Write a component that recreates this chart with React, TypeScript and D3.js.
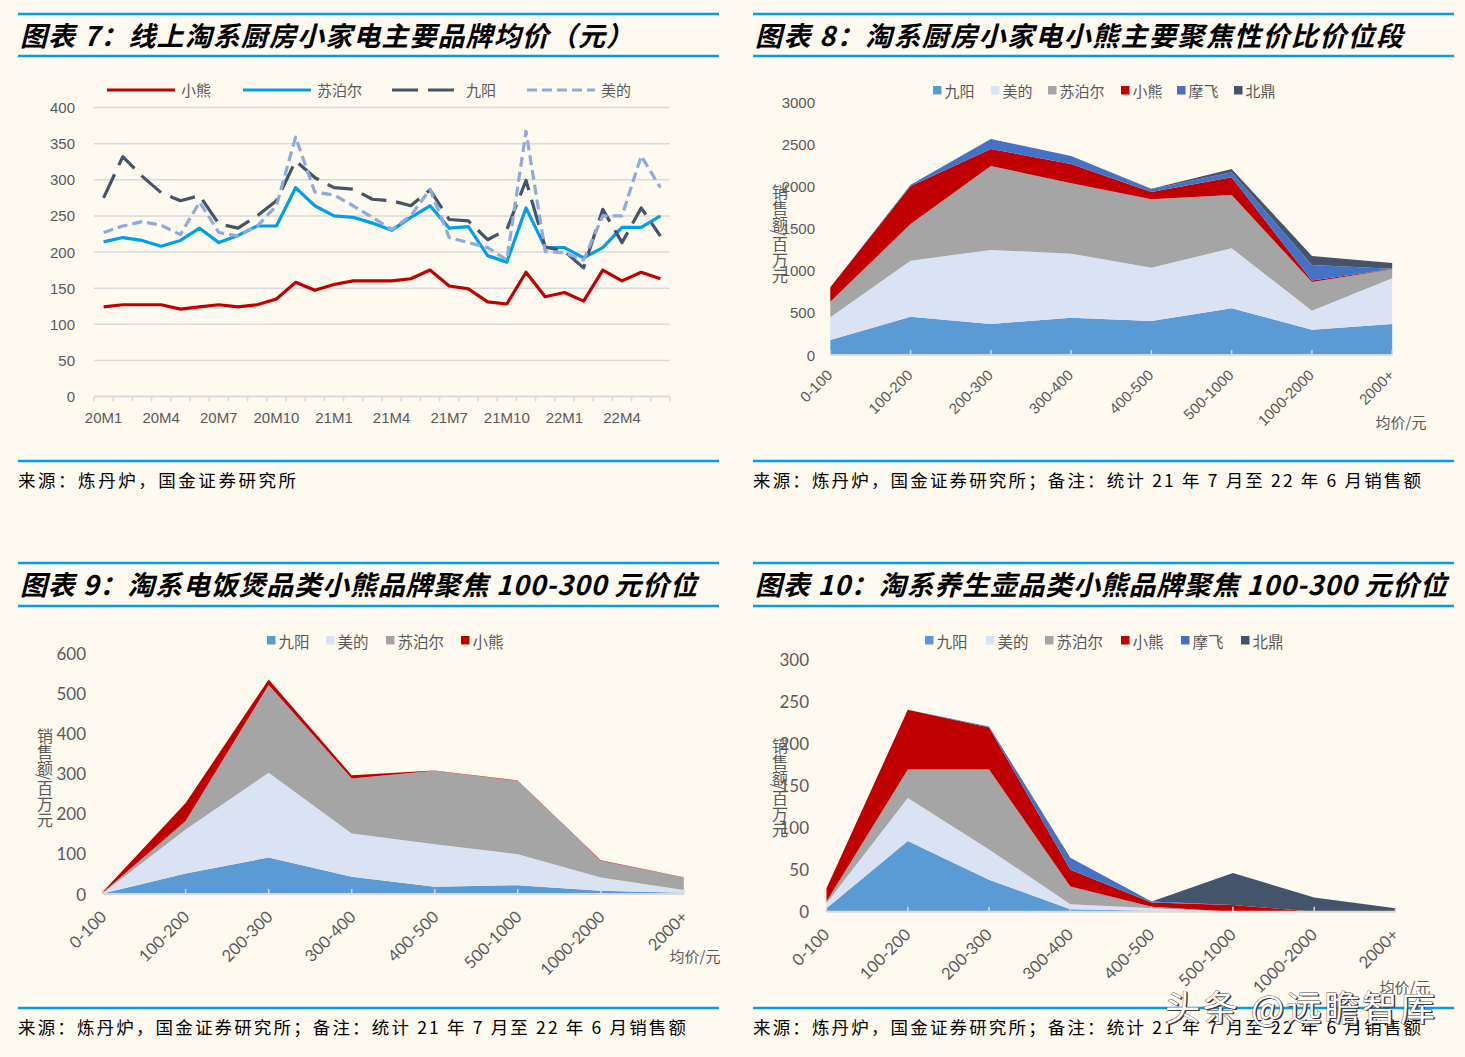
import React from 'react';
import * as d3 from 'd3';

// ---------- DATA ----------
const months = [
  '20M1','20M2','20M3','20M4','20M5','20M6','20M7','20M8','20M9','20M10','20M11','20M12',
  '21M1','21M2','21M3','21M4','21M5','21M6','21M7','21M8','21M9','21M10','21M11','21M12',
  '22M1','22M2','22M3','22M4','22M5','22M6',
];
const xiaoxiongPrice = [124,127,127,127,121,124,127,124,127,135,158,147,155,160,160,160,163,175,153,149,131,128,172,138,144,132,175,160,172,163];
const suporPrice = [214,220,216,208,216,233,213,223,236,236,289,264,250,248,240,230,248,264,233,235,195,186,261,206,206,192,206,234,234,250];
const jiuyangPrice = [275,332,305,282,271,278,239,233,250,271,326,303,289,287,273,271,264,286,245,243,217,231,299,207,201,178,259,213,261,222];
const meidiPrice = [227,236,242,237,224,269,227,222,236,264,359,283,279,264,248,231,250,287,220,213,206,189,367,201,199,189,250,250,333,289];
const priceTicks7 = [0,50,100,150,200,250,300,350,400];
const monthLabelsShown = ['20M1','20M4','20M7','20M10','21M1','21M4','21M7','21M10','22M1','22M4'];

const priceBins = ['0-100','100-200','200-300','300-400','400-500','500-1000','1000-2000','2000+'];
const brands6 = ['九阳','美的','苏泊尔','小熊','摩飞','北鼎'];
const brands4 = ['九阳','美的','苏泊尔','小熊'];

// 图表8: 厨房小家电销售额（百万元）
const kitchenJiuyang = [178,455,368,443,404,554,301,368];
const kitchenMeidi = [269,665,879,760,633,713,225,542];
const kitchenSupor = [186,435,997,835,811,633,341,107];
const kitchenXiaoxiong = [170,452,202,230,87,210,16,4];
const kitchenMofei = [0,15,119,95,32,59,186,4];
const kitchenBeiding = [0,0,0,0,8,40,107,67];
const kitchenTicks = [0,500,1000,1500,2000,2500,3000];

// 图表9: 电饭煲
const riceJiuyang = [1,51,91,43,18,22,8,3];
const riceMeidi = [1,110,211,108,106,77,33,7];
const riceSupor = [1,21,219,137,183,183,42,31];
const riceXiaoxiong = [2,45,14,8,1,1,1,1];
const riceTicks = [0,100,200,300,400,500,600];

// 图表10: 养生壶
const kettleJiuyang = [4,84,38,3,1,0,0,0];
const kettleMeidi = [6,51,36,6,3,0,0,0];
const kettleSupor = [2,34,95,21,2,0,0,0];
const kettleXiaoxiong = [16,71,50,20,5,8,0,0];
const kettleMofei = [0,0,1,14,1,0,0,0];
const kettleBeiding = [0,0,0,0,0,38,17,4];
const kettleTicks = [0,50,100,150,200,250,300];

const brandColors: Record<string, string> = {
  '九阳': '#5B9BD5',
  '美的': '#DAE3F3',
  '苏泊尔': '#A5A5A5',
  '小熊': '#C00000',
  '摩飞': '#4472C4',
  '北鼎': '#44546A',
};

function buildTable(keys: string[], cols: number[][]) {
  return priceBins.map((bin, i) => {
    const row: any = { bin };
    keys.forEach((k, j) => { row[k] = cols[j][i]; });
    return row;
  });
}

const kitchenTable = buildTable(brands6, [kitchenJiuyang, kitchenMeidi, kitchenSupor, kitchenXiaoxiong, kitchenMofei, kitchenBeiding]);
const riceTable = buildTable(brands4, [riceJiuyang, riceMeidi, riceSupor, riceXiaoxiong]);
const kettleTable = buildTable(brands6, [kettleJiuyang, kettleMeidi, kettleSupor, kettleXiaoxiong, kettleMofei, kettleBeiding]);

// ---------- STYLE ----------
const BG = '#FFFAF0';
const RULE = '#00A0E6';
const GREY_TXT = '#595959';
const AXIS = '#D9D9D9';
const SANS = "'Liberation Sans', Arial, 'Noto Sans CJK SC', sans-serif";
const CAL = "Lato, 'Noto Sans CJK SC', sans-serif";
const CJK = "'Noto Sans CJK SC', sans-serif";

function Panel({ x0, x1, yTop, yLine2, yBottom, title, titleX1, source, sourceX1 }: any) {
  return (
    <g>
      <line x1={x0} x2={x1} y1={yTop} y2={yTop} stroke={RULE} strokeWidth={2.5} />
      <line x1={x0} x2={x1} y1={yLine2} y2={yLine2} stroke={RULE} strokeWidth={2.5} />
      <text x={x0 + 2} y={(yTop + yLine2) / 2 - 1} dominantBaseline="central" fontFamily={CJK}
        fontWeight={700} fontStyle="italic" fontSize={27} fill="#000"
        textLength={titleX1 - x0 - 2} lengthAdjust="spacing">{title}</text>
      <line x1={x0} x2={x1} y1={yBottom} y2={yBottom} stroke={RULE} strokeWidth={2.5} />
      <text x={x0} y={yBottom + 18} dominantBaseline="central" fontFamily={CJK}
        fontSize={17.5} fill="#000" textLength={sourceX1 - x0} lengthAdjust="spacing">{source}</text>
    </g>
  );
}

function Chart7() {
  const x = d3.scaleBand<string>().domain(months).range([94, 670]);
  const y = d3.scaleLinear().domain([0, 400]).range([396.5, 107.5]);
  const cx = (m: string) => (x(m) as number) + x.bandwidth() / 2;
  const series = [
    { name: '小熊', values: xiaoxiongPrice, color: '#C00000', dash: undefined as any, lx: 107 },
    { name: '苏泊尔', values: suporPrice, color: '#00A0E9', dash: undefined as any, lx: 243 },
    { name: '九阳', values: jiuyangPrice, color: '#44546A', dash: '26,10', lx: 392 },
    { name: '美的', values: meidiPrice, color: '#8FAADC', dash: '10,5', lx: 527 },
  ];
  const line = d3.line<number>().x((_, i) => cx(months[i])).y(d => y(d));
  return (
    <g>
      {priceTicks7.map(t => (
        <g key={t}>
          <line x1={94} x2={670} y1={y(t)} y2={y(t)} stroke={AXIS} strokeWidth={t === 0 ? 2 : 1.5} />
          <text x={75} y={y(t)} textAnchor="end" dominantBaseline="central" fontFamily={SANS} fontSize={15} fill={GREY_TXT}>{t}</text>
        </g>
      ))}
      {d3.range(months.length + 1).map(i => {
        const xx = 94 + i * x.step();
        return <line key={i} x1={xx} x2={xx} y1={396.5} y2={401.5} stroke={AXIS} strokeWidth={1.5} />;
      })}
      {monthLabelsShown.map(m => (
        <text key={m} x={cx(m)} y={417} textAnchor="middle" dominantBaseline="central" fontFamily={SANS} fontSize={15} fill={GREY_TXT}>{m}</text>
      ))}
      {series.map(s => (
        <path key={s.name} d={line(s.values) as string} fill="none" stroke={s.color} strokeWidth={3.2}
          strokeDasharray={s.dash} strokeLinejoin="round" />
      ))}
      {series.map(s => (
        <g key={'lg' + s.name}>
          <line x1={s.lx} x2={s.lx + 68} y1={90} y2={90} stroke={s.color} strokeWidth={3.2} strokeDasharray={s.dash} />
          <text x={s.lx + 74} y={90} dominantBaseline="central" fontFamily={SANS} fontSize={15} fill={GREY_TXT}>{s.name}</text>
        </g>
      ))}
    </g>
  );
}

function VerticalLabel({ x, y0, size }: any) {
  const chars = ['销', '售', '额', '/', '百', '万', '元'];
  const offs = [0, 16, 32, 42, 52, 68, 84];
  return (
    <g>
      {chars.map((c, i) => (
        c === '/' ? (
          <text key={i} x={0} y={0} transform={`translate(${x},${y0 + offs[i]}) rotate(90)`} textAnchor="middle"
            dominantBaseline="central" fontFamily={CJK} fontSize={size} fill={GREY_TXT}>{c}</text>
        ) : (
          <text key={i} x={x} y={y0 + offs[i]} textAnchor="middle" dominantBaseline="central"
            fontFamily={CJK} fontSize={size} fill={GREY_TXT}>{c}</text>
        )
      ))}
    </g>
  );
}

function StackChart({ keys, table, xRange, yRange, yMax, ticks, tickX, tickFont, tickSize,
  legendY, legendXs, legendSize, ylabX, ylabY, labOff, labFont, labSize, unitX, unitY }: any) {
  const x = d3.scalePoint<string>().domain(priceBins).range(xRange);
  const y = d3.scaleLinear().domain([0, yMax]).range(yRange);
  const stacked = d3.stack<any>().keys(keys)(table);
  const area = d3.area<any>()
    .x(d => x(d.data.bin) as number)
    .y0(d => y(d[0]))
    .y1(d => y(d[1]));
  const base = yRange[0];
  return (
    <g>
      {ticks.map((t: number) => (
        <text key={t} x={tickX} y={y(t)} textAnchor="end" dominantBaseline="central" fontFamily={tickFont}
          fontSize={tickSize} fill={GREY_TXT}>{t}</text>
      ))}
      {stacked.map((s: any) => (
        <path key={s.key} d={area(s) as string} fill={brandColors[s.key]} />
      ))}
      <line x1={xRange[0]} x2={xRange[1]} y1={base} y2={base} stroke={AXIS} strokeWidth={2} />
      {priceBins.map(b => (
        <line key={'t' + b} x1={x(b)} x2={x(b)} y1={base - 5} y2={base} stroke={AXIS} strokeWidth={1.5} />
      ))}
      {priceBins.map(b => (
        <text key={'l' + b} x={0} y={0} transform={`translate(${(x(b) as number) + labOff[0]},${base + labOff[1]}) rotate(-45)`}
          textAnchor="end" fontFamily={labFont} fontSize={labSize} fill={GREY_TXT}>{b}</text>
      ))}
      <text x={unitX} y={unitY} textAnchor="middle" dominantBaseline="central" fontFamily={CJK} fontSize={15} fill={GREY_TXT}>均价/元</text>
      <VerticalLabel x={ylabX} y0={ylabY} size={16} />
      {keys.map((k: string, i: number) => (
        <g key={'lg' + k}>
          <rect x={legendXs[i]} y={legendY - 4.5} width={8.5} height={8.5} fill={brandColors[k]} />
          <text x={legendXs[i] + 11.5} y={legendY} dominantBaseline="central" fontFamily={CJK} fontSize={legendSize} fill={GREY_TXT}>{k}</text>
        </g>
      ))}
    </g>
  );
}

export default function App() {
  const srcLong = '来源：炼丹炉，国金证券研究所；备注：统计 21 年 7 月至 22 年 6 月销售额';
  return (
    <svg width={1465} height={1057} style={{ position: 'absolute', left: 0, top: 0, display: 'block' }}>
      <rect x={0} y={0} width={1465} height={1057} fill={BG} />
      <Panel x0={18} x1={719} yTop={14} yLine2={56} yBottom={461}
        title="图表 7：线上淘系厨房小家电主要品牌均价（元）" titleX1={633}
        source="来源：炼丹炉，国金证券研究所" sourceX1={296} />
      <Panel x0={753} x1={1454} yTop={14} yLine2={56} yBottom={461}
        title="图表 8：淘系厨房小家电小熊主要聚焦性价比价位段" titleX1={1403}
        source={srcLong} sourceX1={1421} />
      <Panel x0={18} x1={719} yTop={563} yLine2={606} yBottom={1008}
        title="图表 9：淘系电饭煲品类小熊品牌聚焦 100-300 元价位" titleX1={697}
        source={srcLong} sourceX1={686} />
      <Panel x0={753} x1={1454} yTop={563} yLine2={606} yBottom={1008}
        title="图表 10：淘系养生壶品类小熊品牌聚焦 100-300 元价位" titleX1={1447}
        source={srcLong} sourceX1={1421} />

      <Chart7 />

      <StackChart keys={brands6} table={kitchenTable} xRange={[830.3, 1392.2]} yRange={[355, 102.3]}
        yMax={3000} ticks={kitchenTicks} tickX={815} tickFont={SANS} tickSize={15}
        legendY={90.5} legendXs={[933, 991, 1048, 1121, 1177, 1234]} legendSize={15}
        ylabX={780} ylabY={191} labOff={[3, 21]} labFont={SANS} labSize={15} unitX={1401} unitY={421.5} />

      <StackChart keys={brands4} table={riceTable} xRange={[102.6, 683.8]} yRange={[894, 653.3]}
        yMax={600} ticks={riceTicks} tickX={86} tickFont={CAL} tickSize={17}
        legendY={640.5} legendXs={[267, 326, 386, 461]} legendSize={15.5}
        ylabX={45} ylabY={735} labOff={[5, 24]} labFont={CAL} labSize={16.5} unitX={695} unitY={955} />

      <StackChart keys={brands6} table={kettleTable} xRange={[826.5, 1395.5]} yRange={[911.7, 659.3]}
        yMax={300} ticks={kettleTicks} tickX={809} tickFont={CAL} tickSize={17}
        legendY={640.5} legendXs={[925, 986, 1045, 1121, 1181, 1241]} legendSize={15.5}
        ylabX={780} ylabY={745} labOff={[4, 24]} labFont={CAL} labSize={16.5} unitX={1405} unitY={986} />

      <g>
        <text x={1166.5} y={1006.5} dominantBaseline="central" fontFamily={CJK} fontSize={35} fill="#333"
          textLength={270} lengthAdjust="spacing">头条 @远瞻智库</text>
        <text x={1165} y={1005} dominantBaseline="central" fontFamily={CJK} fontSize={35} fill="#FFFFFF"
          stroke="#444" strokeWidth={0.8} style={{ paintOrder: 'stroke' }}
          textLength={270} lengthAdjust="spacing">头条 @远瞻智库</text>
      </g>
    </svg>
  );
}
